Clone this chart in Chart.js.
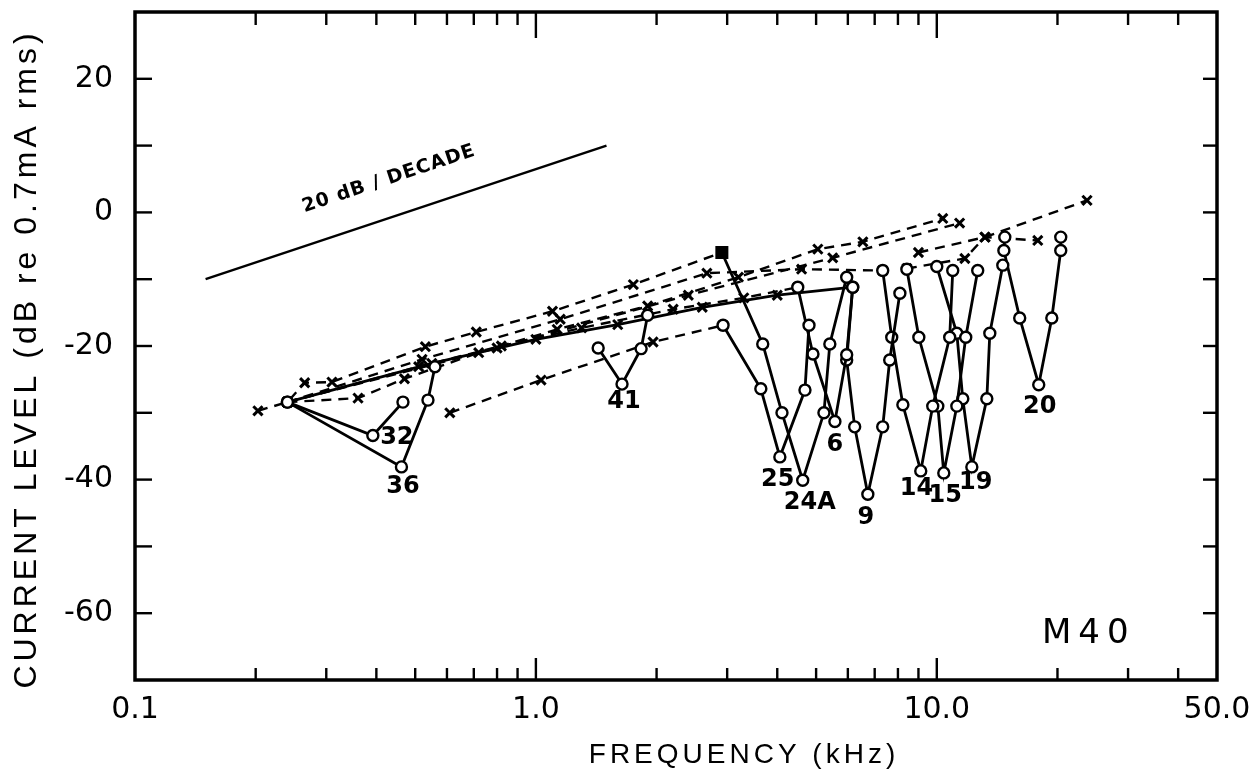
<!DOCTYPE html>
<html>
<head>
<meta charset="utf-8">
<script src="https://cdn.jsdelivr.net/npm/chart.js@4.4.1/dist/chart.umd.min.js"></script>
<style>
html, body { margin: 0; padding: 0; background: #fff; }
</style>
</head>
<body>
<canvas id="grafico" width="1259" height="779"></canvas>
<script>
// rótulos dos eixos
var rotulosX = [0.1, 1, 10, 50];
var rotulosY = [20, 0, -20, -40, -60];
var marcasX = [0.2, 0.3, 0.4, 0.5, 0.6, 0.7, 0.8, 0.9, 1, 2, 3, 4, 5, 6, 7, 8, 9, 10, 20, 30, 40];
var marcasY = [-60, -50, -40, -30, -20, -10, 0, 10, 20];

// reta de referência 20 dB / década
var refFreq = [0.15, 1.5];
var refNivel = [-10, 10];

// curvas com círculos (linha cheia)
var f32 = [0.24, 0.392, 0.466];
var n32 = [-28.4, -33.4, -28.4];
var f36 = [0.24, 0.462, 0.538, 0.56];
var n36 = [-28.4, -38.1, -28.1, -23.1];
var f41 = [1.43, 1.64, 1.83, 1.90];
var n41 = [-20.3, -25.7, -20.4, -15.4];
var f25 = [2.93, 3.64, 4.06, 4.69, 4.80];
var n25 = [-16.9, -26.4, -36.6, -26.6, -16.9];
var f24A = [2.91, 3.68, 4.11, 4.63, 5.23, 5.41, 5.96];
var n24A = [-6.0, -19.7, -30.0, -40.1, -30.0, -19.7, -9.7];
var f6 = [4.5, 4.91, 5.57, 5.96, 6.17];
var n6 = [-11.2, -21.2, -31.3, -21.3, -11.2];
var f9 = [6.17, 5.96, 6.24, 6.73, 7.33, 7.63, 8.09];
var n9 = [-11.2, -22.1, -32.1, -42.2, -32.1, -22.1, -12.1];
var f14 = [7.33, 7.72, 8.23, 9.12, 9.77, 10.77, 10.96];
var n14 = [-8.7, -18.7, -28.8, -38.7, -29.0, -18.7, -8.7];
var f15 = [8.42, 9.02, 10.06, 10.41, 11.22, 11.81, 12.65];
var n15 = [-8.5, -18.7, -29.0, -39.0, -29.0, -18.7, -8.7];
var f19 = [10.0, 11.22, 11.61, 12.23, 13.33, 13.56, 14.61];
var n19 = [-8.1, -18.1, -27.9, -38.1, -27.9, -18.1, -7.9];
var f20 = [14.78, 14.7, 16.1, 17.96, 19.36, 20.38, 20.38];
var n20 = [-3.7, -5.7, -15.8, -25.8, -15.8, -5.7, -3.7];

// curvas com x (tracejadas)
var fA = [0.2026, 0.24, 0.265, 0.31, 0.53, 0.71, 1.1, 1.75, 2.91];
var nA = [-29.7, -28.4, -25.5, -25.4, -20.1, -17.9, -14.8, -10.8, -6.0];
var fB = [0.24, 0.36, 0.47, 0.72, 1.13, 1.9, 3.2, 5.05, 6.54, 10.35];
var nB = [-28.4, -27.8, -24.9, -21.0, -17.5, -14.0, -9.7, -5.5, -4.4, -0.9];
var fC = [0.24, 0.51, 0.82, 1.3, 2.2, 3.3, 4.5];
var nC = [-28.4, -23.1, -20.0, -17.3, -14.5, -12.8, -11.2];
var fD = [0.24, 0.55, 1.0, 1.6, 2.6, 4.0, 6.17];
var nD = [-28.4, -22.6, -19.0, -16.8, -14.2, -12.4, -11.2];
var fE = [0.61, 1.03, 1.96, 2.93];
var nE = [-30.0, -25.1, -19.4, -16.9];
var fF = [0.24, 0.52, 1.15, 2.67, 4.6, 7.33];
var nF = [-28.4, -22.0, -16.0, -9.1, -8.5, -8.7];
var fG = [8.42, 11.75, 13.18, 17.86];
var nG = [-8.4, -6.9, -3.7, -4.2];
var fH = [9.0, 13.2, 23.7];
var nH = [-6.0, -3.7, 1.8];
var fI = [0.24, 0.8, 2.4, 5.5, 11.4];
var nI = [-28.4, -20.3, -12.4, -6.8, -1.6];

// nomes dos eletrodos
var nomes = ['32', '36', '41', '25', '24A', '6', '9', '14', '15', '19', '20'];
var nomeFreq = [0.45, 0.466, 1.658, 4.01, 4.82, 5.57, 6.65, 8.9, 10.5, 12.5, 18.07];
var nomeNivel = [-33.7, -41.0, -28.4, -40.0, -43.4, -34.8, -45.7, -41.3, -42.4, -40.5, -29.1];

function pontos(f, n) {
    return f.map(function (v, i) { return { x: v, y: n[i] }; });
}

function cheia(f, n) {
    return {
        data: pontos(f, n), showLine: true,
        borderColor: '#000', borderWidth: 2.8,
        pointStyle: 'circle', pointRadius: 5.5, pointBorderWidth: 2.4,
        pointBackgroundColor: '#fff', pointBorderColor: '#000'
    };
}

function tracejada(f, n) {
    return {
        data: pontos(f, n), showLine: true,
        borderColor: '#000', borderWidth: 2.4, borderDash: [10, 7],
        pointStyle: 'crossRot', pointRadius: 6.5, pointBorderWidth: 3,
        pointBorderColor: '#000'
    };
}

var conj24A = cheia(f24A, n24A);
conj24A.pointStyle = f24A.map(function (v, i) { return i === 0 ? 'rect' : 'circle'; });
conj24A.pointRadius = f24A.map(function (v, i) { return i === 0 ? 7.5 : 5.5; });
conj24A.pointBackgroundColor = f24A.map(function (v, i) { return i === 0 ? '#000' : '#fff'; });

var conjD = tracejada(fD, nD);
conjD.borderDash = [];
conjD.borderWidth = 2.8;

var conjuntos = [
    cheia(f32, n32), cheia(f36, n36), cheia(f41, n41), cheia(f25, n25), conj24A,
    cheia(f6, n6), cheia(f9, n9), cheia(f14, n14), cheia(f15, n15), cheia(f19, n19), cheia(f20, n20),
    tracejada(fA, nA), tracejada(fB, nB), tracejada(fC, nC), conjD, tracejada(fE, nE),
    tracejada(fF, nF), tracejada(fG, nG), tracejada(fH, nH), tracejada(fI, nI),
    { data: pontos(refFreq, refNivel), showLine: true, borderColor: '#000', borderWidth: 2.4, pointRadius: 0 }
];

function linha(ctx, x1, y1, x2, y2) {
    ctx.beginPath(); ctx.moveTo(x1, y1); ctx.lineTo(x2, y2); ctx.stroke();
}

var moldura = {
    id: 'moldura',
    afterDraw: function (chart) {
        var ctx = chart.ctx, a = chart.chartArea, sx = chart.scales.x, sy = chart.scales.y;
        ctx.save();
        ctx.strokeStyle = '#000';
        ctx.lineWidth = 3.5;
        ctx.strokeRect(a.left, a.top, a.right - a.left, a.bottom - a.top);
        ctx.lineWidth = 2.4;
        marcasX.forEach(function (v) {
            var p = sx.getPixelForValue(v);
            var maior = (v === 1 || v === 10);
            linha(ctx, p, a.bottom, p, a.bottom - (maior ? 22 : 12));
            linha(ctx, p, a.top, p, a.top + (maior ? 26 : 13));
        });
        marcasY.forEach(function (v) {
            var p = sy.getPixelForValue(v);
            linha(ctx, a.left, p, a.left + 17, p);
            linha(ctx, a.right, p, a.right - 14, p);
        });

        ctx.fillStyle = '#000';
        ctx.textAlign = 'center';
        ctx.textBaseline = 'middle';

        // nomes dos eletrodos
        ctx.font = 'bold 24px "DejaVu Sans"';
        nomes.forEach(function (t, i) {
            ctx.fillText(t, sx.getPixelForValue(nomeFreq[i]), sy.getPixelForValue(nomeNivel[i]));
        });

        ctx.font = '34px "DejaVu Sans"';
        ctx.letterSpacing = '7px';
        ctx.fillText('M40', sx.getPixelForValue(23.4) + 4, sy.getPixelForValue(-63.1));

        // texto da reta de referência
        var x1 = sx.getPixelForValue(refFreq[0]), y1 = sy.getPixelForValue(refNivel[0]);
        var x2 = sx.getPixelForValue(refFreq[1]), y2 = sy.getPixelForValue(refNivel[1]);
        ctx.save();
        ctx.translate(sx.getPixelForValue(0.43), sy.getPixelForValue(5.0));
        ctx.rotate(Math.atan2(y2 - y1, x2 - x1));
        ctx.font = 'bold 19px "DejaVu Sans"';
        ctx.letterSpacing = '1px';
        ctx.fillText('20 dB / DECADE', 0, 0);
        ctx.restore();

        // títulos dos eixos
        ctx.font = '28px "Liberation Sans"';
        ctx.letterSpacing = '4px';
        ctx.fillText('FREQUENCY (kHz)', 744, 755);
        ctx.save();
        ctx.translate(27, 359);
        ctx.rotate(-Math.PI / 2);
        ctx.font = '32px "Liberation Sans"';
        ctx.letterSpacing = '4px';
        ctx.fillText('CURRENT LEVEL (dB re 0.7mA rms)', 0, 0);
        ctx.restore();
        ctx.restore();
    }
};

var fonteTicks = { family: 'DejaVu Sans', size: 30 };

new Chart(document.getElementById('grafico').getContext('2d'), {
    type: 'scatter',
    data: { datasets: conjuntos },
    options: {
        responsive: false,
        animation: false,
        layout: { padding: { top: 12, right: 42, left: 0, bottom: 0 } },
        plugins: { legend: { display: false }, tooltip: { enabled: false } },
        scales: {
            x: {
                type: 'logarithmic', min: 0.1, max: 50,
                grid: { display: false, drawTicks: false }, border: { display: false },
                afterBuildTicks: function (s) { s.ticks = rotulosX.map(function (v) { return { value: v }; }); },
                afterFit: function (s) { s.height = 99; s.paddingLeft = 0; s.paddingRight = 0; },
                ticks: {
                    autoSkip: false, maxRotation: 0, padding: 12, color: '#000', font: fonteTicks,
                    callback: function (v) { return Number(v).toFixed(1); }
                }
            },
            y: {
                min: -70, max: 30,
                grid: { display: false, drawTicks: false }, border: { display: false },
                afterBuildTicks: function (s) { s.ticks = rotulosY.map(function (v) { return { value: v }; }); },
                afterFit: function (s) { s.width = 135; s.paddingTop = 0; s.paddingBottom = 0; },
                ticks: { padding: 22, color: '#000', font: fonteTicks, callback: function (v) { return String(v); } }
            }
        }
    },
    plugins: [moldura]
});
</script>
</body>
</html>
